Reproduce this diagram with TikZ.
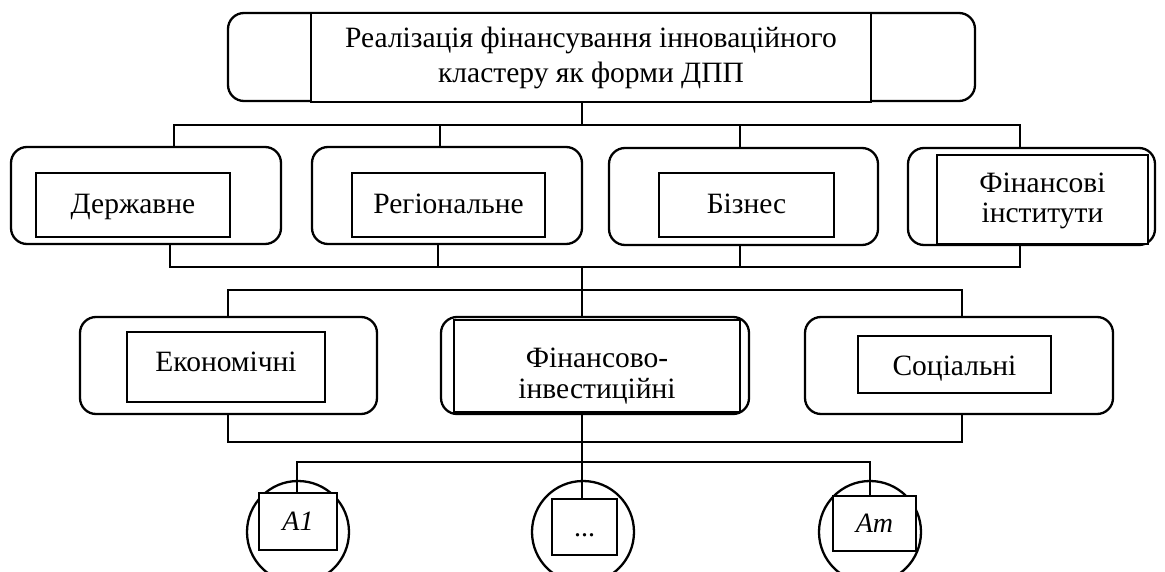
\documentclass[tikz,border=0pt]{standalone}
\usepackage{fontspec}
\setmainfont{Liberation Serif}
\newcommand{\topstrut}[1]{\rule{0pt}{#1}}
\newcommand{\botstrut}[1]{\rule[-#1]{0pt}{#1}}
\begin{document}
\begin{tikzpicture}[x=1pt,y=-1pt,
  outerbox/.style={draw, line width=2.3pt, rounded corners=16pt, inner sep=0pt},
  innerbox/.style={draw, fill=white, line width=1.7pt, inner sep=0pt, align=center, font=\fontsize{29.5}{31}\selectfont},
  oneline/.style={text height=25pt, text depth=7.5pt},
  conn/.style={line width=2.2pt},
  circbox/.style={draw, line width=2.3pt, circle, inner sep=0pt, minimum size=102pt},
  leafbox/.style={draw, fill=white, line width=1.7pt, inner sep=0pt, font=\fontsize{28}{31}\selectfont\itshape, text height=24pt, text depth=5.5pt}]
\clip (0,0) rectangle (1165,572);
\fill[white] (0,0) rectangle (1165,572);

% top
\node[outerbox, minimum width=747pt, minimum height=88pt] (top) at (601.5,57) {};
\node[innerbox, minimum width=560pt, minimum height=89pt, font=\fontsize{29.5}{35}\selectfont] (topin) at (591,57.5) {\topstrut{28pt}Реалізація фінансування інноваційного\\кластеру як форми ДПП\botstrut{12pt}};

% row 2
\node[outerbox, minimum width=270pt, minimum height=97pt] (o1) at (146,195.5) {};
\node[outerbox, minimum width=270pt, minimum height=97pt] (o2) at (447,195.5) {};
\node[outerbox, minimum width=269pt, minimum height=97pt] (o3) at (743.5,196.5) {};
\node[outerbox, minimum width=247pt, minimum height=97pt] (o4) at (1031.5,196.5) {};
\node[innerbox, oneline, minimum width=194pt, minimum height=64pt] (i1) at (133,205) {Державне};
\node[innerbox, oneline, minimum width=193pt, minimum height=64pt] (i2) at (448.5,205) {Регіональне};
\node[innerbox, oneline, minimum width=175pt, minimum height=64pt] (i3) at (746.5,205) {Бізнес};
\node[innerbox, minimum width=211pt, minimum height=89pt, font=\fontsize{29.5}{30}\selectfont] (i4) at (1042.5,199.5) {\topstrut{28pt}Фінансові\\інститути\botstrut{11pt}};

% row 3
\node[outerbox, minimum width=297pt, minimum height=97pt] (o5) at (228.5,365.5) {};
\node[outerbox, minimum width=308pt, minimum height=97pt] (o6) at (595,365.5) {};
\node[outerbox, minimum width=308pt, minimum height=97pt] (o7) at (959,365.5) {};
\node[innerbox, text height=22pt, text depth=14pt, minimum width=198pt, minimum height=70pt] (i5) at (226,367) {Економічні};
\node[innerbox, minimum width=286pt, minimum height=92pt] (i6) at (597,366) {\topstrut{40pt}Фінансово-\\інвестиційні\botstrut{7pt}};
\node[innerbox, text height=27pt, text depth=6pt, minimum width=193pt, minimum height=57pt] (i7) at (954.5,364.5) {Соціальні};

% leaves
\node[circbox] (c1) at (298,532) {};
\node[circbox] (c2) at (583,532) {};
\node[circbox] (c3) at (870,532) {};
\node[leafbox, minimum width=78pt, minimum height=57pt] (s1) at (298,521.5) {A1};
\node[leafbox, minimum width=65pt, minimum height=56pt, font=\fontsize{28}{31}\selectfont] (s2) at (584.5,527) {...};
\node[leafbox, minimum width=83pt, minimum height=55pt] (s3) at (874.5,523.5) {Am};

% connectors
\coordinate (t) at (582,125);
\coordinate (a1) at (174,125);
\coordinate (a2) at (440,125);
\coordinate (a3) at (740,125);
\coordinate (a4) at (1020,125);
\draw[conn] (t |- top.south) -- (t);
\draw[conn] (a1 |- o1.north) -- (a1) -- (a4) -- (a4 |- o4.north);
\draw[conn] (a2) -- (a2 |- o2.north);
\draw[conn] (a3) -- (a3 |- o3.north);

\coordinate (b1) at (170,267);
\coordinate (b2) at (438,267);
\coordinate (b3) at (740,267);
\coordinate (b4) at (1020,267);
\coordinate (b5) at (582,267);
\draw[conn] (b1 |- o1.south) -- (b1) -- (b4) -- (b4 |- o4.south);
\draw[conn] (b2) -- (b2 |- o2.south);
\draw[conn] (b3) -- (b3 |- o3.south);

\coordinate (cc1) at (228,290);
\coordinate (cc2) at (582,290);
\coordinate (cc3) at (962,290);
\draw[conn] (b5) -- (cc2) -- (cc2 |- o6.north);
\draw[conn] (cc1 |- o5.north) -- (cc1) -- (cc3) -- (cc3 |- o7.north);

\coordinate (d1) at (228,442);
\coordinate (d2) at (582,442);
\coordinate (d3) at (962,442);
\draw[conn] (d1 |- o5.south) -- (d1) -- (d3) -- (d3 |- o7.south);
\draw[conn] (d2 |- o6.south) -- (d2 |- s2.north);

\coordinate (e1) at (297,462);
\coordinate (e3) at (870,462);
\draw[conn] (e1 |- s1.north) -- (e1) -- (e3) -- (e3 |- s3.north);
\end{tikzpicture}
\end{document}
